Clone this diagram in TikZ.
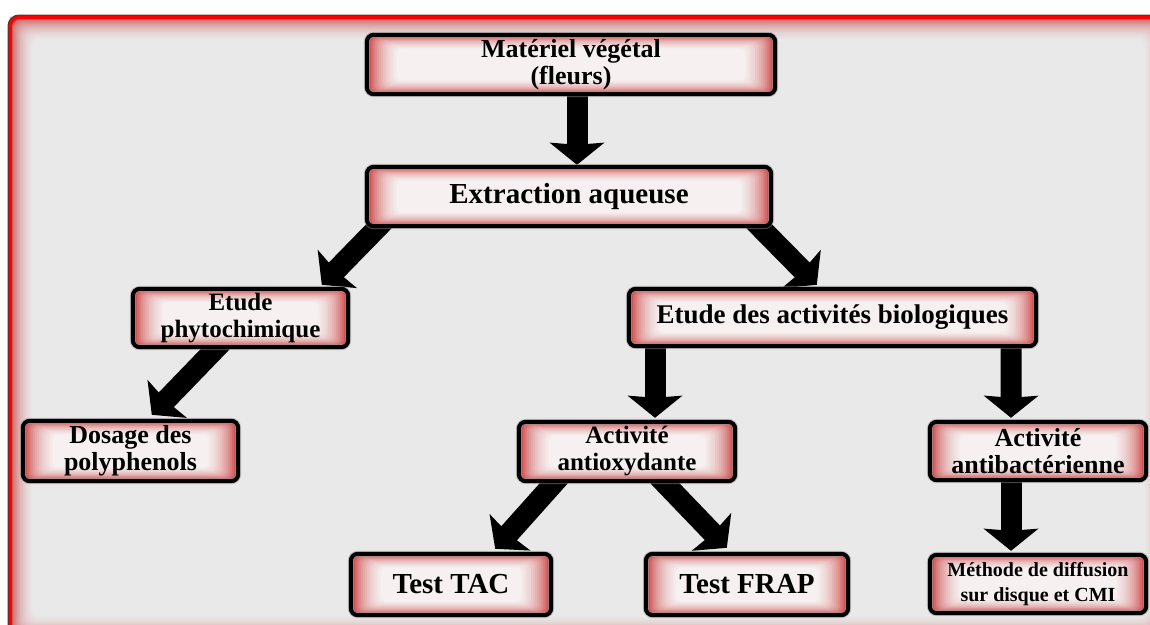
\documentclass[tikz,border=0pt]{standalone}
\usepackage{fontspec}
\setmainfont{Liberation Serif}
\usetikzlibrary{arrows.meta,calc}

\pgfdeclarelayer{frame}
\pgfdeclarelayer{arrows}
\pgfdeclarelayer{boxes}
\pgfsetlayers{frame,arrows,boxes,main}

\definecolor{bgray}{RGB}{233,233,233}
\definecolor{framered}{RGB}{255,0,0}
\definecolor{framedark}{RGB}{110,45,45}
\definecolor{glowred}{RGB}{200,60,60}
\definecolor{boxred}{RGB}{200,55,55}
\definecolor{boxwhite}{RGB}{246,242,242}

\newcommand\fs[1]{\bfseries\fontsize{#1}{27}\selectfont}

\tikzset{
  stagebox/.style={draw=none, align=center, inner sep=0pt, font=\fs{25}},
  bigarrow/.style={line width=21pt, black,
    -{Stealth[length=22pt,width=54pt,inset=2pt]}},
}

% red inner glow and black rounded border behind a stage node
\newcommand\glowbox[1]{%
  \begin{pgfonlayer}{boxes}
    \foreach \i/\p in {0/100,1/86,2/74,3/64,4/55,5/47,6/40,7/34,8/28,9/23,10/18,11/14,12/10,13/7,14/4,15/1}{
      \fill[boxred!\p!boxwhite, rounded corners=6pt]
        ($(#1.south west)+(2*\i,-0.9*\i)$) rectangle ($(#1.north east)+(-2*\i,0.9*\i)$);
    }
    \draw[black!40, line width=6pt, rounded corners=7pt, opacity=0.5] (#1.south west) rectangle (#1.north east);
    \draw[black, line width=4pt, rounded corners=7pt] (#1.south west) rectangle (#1.north east);
  \end{pgfonlayer}}

\begin{document}
\begin{tikzpicture}[x=1pt,y=-1pt]
\useasboundingbox (0,0) rectangle (1150,624);

% outer frame with red inner glow
\begin{pgfonlayer}{frame}
  \fill[white] (0,0) rectangle (1150,624);
  \begin{scope}
    \clip (0,0) rectangle (1150,624);
    \fill[bgray] (9,16) rectangle (1168,640);
    \foreach \i/\p in {0/88,1/76,2/66,3/58,4/51,5/45,6/39,7/34,8/29,9/25,10/21,11/17,12/14,13/11,14/8,15/6,16/4,17/2,18/0}{
      \fill[glowred!\p!bgray, rounded corners=9pt]
        ($(10.5,17.5)+(1.2*\i,1.2*\i)$) rectangle ($(1166.5,638.5)-(1.2*\i,1.2*\i)$);
    }
    \draw[framedark, line width=3pt, rounded corners=10pt] (9,16) rectangle (1168,640);
    \draw[framered, line width=3pt, rounded corners=9pt] (10.5,17.5) rectangle (1166.5,638.5);
  \end{scope}
\end{pgfonlayer}

% stages
\node[stagebox, minimum width=408pt, minimum height=59pt, font=\fs{26}] (mat) at (571,64.5) {Matériel végétal\\(fleurs)};
\node[stagebox, minimum width=404pt, minimum height=59pt, font=\fs{29}] (ext) at (569,196.5) {Extraction aqueuse};
\node[stagebox, minimum width=215pt, minimum height=58pt] (phy) at (240.5,318) {Etude\\phytochimique};
\node[stagebox, minimum width=407pt, minimum height=57pt, font=\fs{27}] (bio) at (832.5,317.5) {Etude des activités biologiques};
\node[stagebox, minimum width=215pt, minimum height=60pt, font=\fs{26}] (dos) at (130.5,451) {Dosage des\\polyphenols};
\node[stagebox, minimum width=216pt, minimum height=59pt] (aox) at (627,451.5) {Activité\\antioxydante};
\node[stagebox, minimum width=216pt, minimum height=58pt, font=\fs{26}] (abac) at (1038,451) {Activité\\antibactérienne};
\node[stagebox, minimum width=216pt, minimum height=58pt, font=\bfseries\fontsize{20}{25}\selectfont] (meth) at (1038,584) {Méthode de diffusion\\sur disque et CMI};
\node[stagebox, minimum width=200pt, minimum height=61pt, font=\fs{29}] (tac) at (451,584.5) {Test TAC};
\node[stagebox, minimum width=202pt, minimum height=61pt, font=\fs{29}] (frap) at (747,584.5) {Test FRAP};

\foreach \n in {mat,ext,phy,bio,dos,aox,abac,meth,tac,frap}{\glowbox{\n}}

% connectors
\begin{pgfonlayer}{arrows}
  \draw[bigarrow] ([xshift=6pt,yshift=8pt]mat.south) -- ([xshift=8pt,yshift=2pt]ext.north);
  \draw[bigarrow] ([xshift=20pt,yshift=8pt]ext.south west) -- ([xshift=189pt,yshift=4pt]phy.north west);
  \draw[bigarrow] ([xshift=-20pt,yshift=8pt]ext.south east) -- ([xshift=188pt,yshift=4pt]bio.north west);
  \draw[bigarrow] ([xshift=92pt,yshift=8pt]phy.south west) -- ([xshift=129pt,yshift=6pt]dos.north west);
  \draw[bigarrow] ([xshift=-177.5pt,yshift=8pt]bio.south) -- ([xshift=28pt,yshift=4pt]aox.north);
  \draw[bigarrow] ([xshift=-25pt,yshift=8pt]bio.south east) -- ([xshift=-27pt,yshift=4pt]abac.north);
  \draw[bigarrow] ([xshift=-27pt,yshift=8pt]abac.south) -- ([xshift=-27pt,yshift=4pt]meth.north);
  \draw[bigarrow] ([xshift=44pt,yshift=8pt]aox.south west) -- ([xshift=-56pt,yshift=5pt]tac.north east);
  \draw[bigarrow] ([xshift=-80pt,yshift=8pt]aox.south east) -- ([xshift=81pt,yshift=6pt]frap.north west);
\end{pgfonlayer}
\end{tikzpicture}
\end{document}
